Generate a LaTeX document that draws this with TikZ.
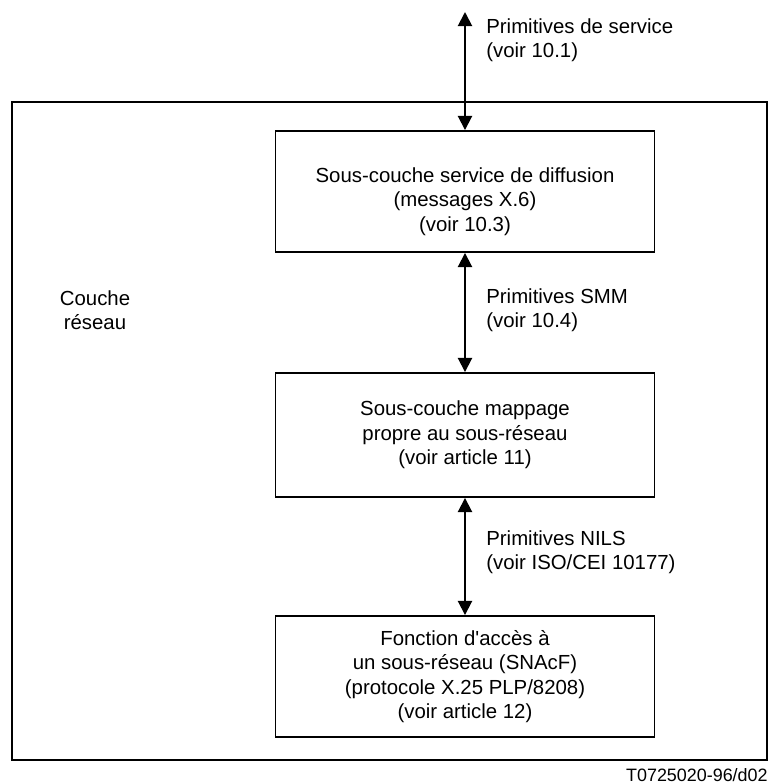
\documentclass[tikz,border=0pt]{standalone}
\usepackage{fontspec}
\setmainfont{Liberation Sans}
\usetikzlibrary{arrows.meta}
\tikzset{
	blocco/.style={draw=black,line width=1.1pt,minimum width=7.58cm,minimum height=2.42cm,inner sep=0pt,align=center},
	freccia/.style={line width=1.1pt,{Triangle[length=8pt,width=8pt]}-{Triangle[length=8pt,width=8pt]}},
	etichetta/.style={anchor=west,align=left,inner sep=0pt},
	cornice/.style={draw=black,line width=1.1pt},
	}
\begin{document}
\begin{tikzpicture}[font=\fontsize{11.6}{13.9}\selectfont]
\useasboundingbox (0,0) rectangle (15.44,15.66);
%CORNICE
\draw[cornice] (0.24,0.46) rectangle (15.34,13.62);
\node[align=center] (couche) at (1.9,9.45) {Couche\\r\'eseau};
%BLOCCHI
\node[blocco,label={[align=center,yshift=-0.2cm]center:Sous-couche service de diffusion\\(messages X.6)\\(voir 10.3)}] (b1) at (9.3,11.83) {};
\node[blocco,minimum height=2.48cm] (b2) at (9.3,6.96) {Sous-couche mappage\\propre au sous-r\'eseau\\(voir article 11)};
\node[blocco] (b3) at (9.3,2.13) {Fonction d\textquotesingle acc\`es \`a\\un sous-r\'eseau (SNAcF)\\(protocole X.25 PLP/8208)\\(voir article 12)};
\coordinate (alto) at (9.3,15.42);
%FRECCE
\draw[freccia] (alto) -- (b1.north);
\draw[freccia] (b1.south) -- (b2.north);
\draw[freccia] (b2.south) -- (b3.north);
%ETICHETTE
\node[etichetta] (p1) at (9.72,14.85) {Primitives de service\\(voir 10.1)};
\node[etichetta] (p2) at (9.72,9.46) {Primitives SMM\\(voir 10.4)};
\node[etichetta] (p3) at (9.72,4.61) {Primitives NILS\\(voir ISO/CEI 10177)};
\node[anchor=east,inner sep=0pt,font=\fontsize{10.2}{12}\selectfont] (rif) at (15.36,0.16) {T0725020-96/d02};
\end{tikzpicture}
\end{document}
